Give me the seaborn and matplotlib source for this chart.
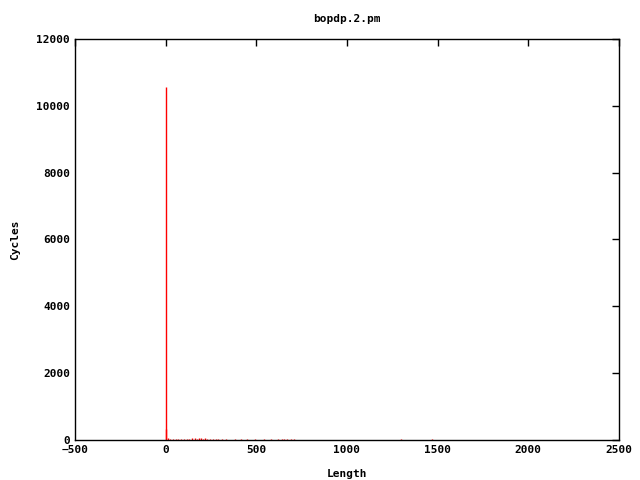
import matplotlib
matplotlib.use("Agg")
import matplotlib.pyplot as plt
import seaborn as sns
import pandas as pd

lengths = [0, 2, 12, 25, 40, 55, 70, 85, 100, 115, 130, 145, 160, 172, 185, 195, 205, 215, 230, 245, 260, 275, 290, 310, 335, 380, 415, 450, 490, 540, 580, 620, 640, 655, 670, 690, 710, 1300, 1470]
cycles = [10550, 330, 60, 40, 35, 30, 35, 30, 30, 40, 35, 45, 55, 40, 50, 45, 40, 45, 40, 35, 40, 35, 30, 30, 35, 30, 40, 30, 25, 30, 25, 30, 35, 40, 35, 30, 35, 30, 25]
title = "bopdp.2.pm"
xlabel = "Length"
ylabel = "Cycles"

df = pd.DataFrame({"Length": lengths, "Cycles": cycles})

sns.set_style("white")
plt.rcParams["font.family"] = ["DejaVu Sans Mono"]
plt.rcParams["font.weight"] = "bold"
plt.rcParams["text.color"] = "black"
plt.rcParams["axes.labelcolor"] = "black"
plt.rcParams["xtick.color"] = "black"
plt.rcParams["ytick.color"] = "black"

fig = plt.figure(figsize=(6.4, 4.8), dpi=100)
ax = fig.add_axes([75/640, 1-440/480, 544/640, 401/480])

# impulses (gnuplot style)
ax.vlines(df["Length"], 0, df["Cycles"], colors="#ff0000", linewidth=1)
sns.despine(ax=ax, top=False, right=False, left=False, bottom=False)

ax.set_xlim(-500, 2500)
ax.set_ylim(0, 12000)
ax.set_xticks(range(-500, 2501, 500))
ax.set_yticks(range(0, 12001, 2000))
ax.tick_params(direction="in", top=True, right=True, length=5, width=1, labelsize=8, color="black")
for s in ax.spines.values():
    s.set_visible(True)
    s.set_color("black")
    s.set_linewidth(1)
ax.set_title(title, fontsize=8, fontweight="bold", pad=12)
ax.set_xlabel(xlabel, fontsize=8, fontweight="bold", labelpad=10)
ax.set_ylabel(ylabel, fontsize=8, fontweight="bold", labelpad=12)
for lbl in ax.get_xticklabels() + ax.get_yticklabels():
    lbl.set_fontweight("bold")

fig.savefig("out.png", dpi=100)
